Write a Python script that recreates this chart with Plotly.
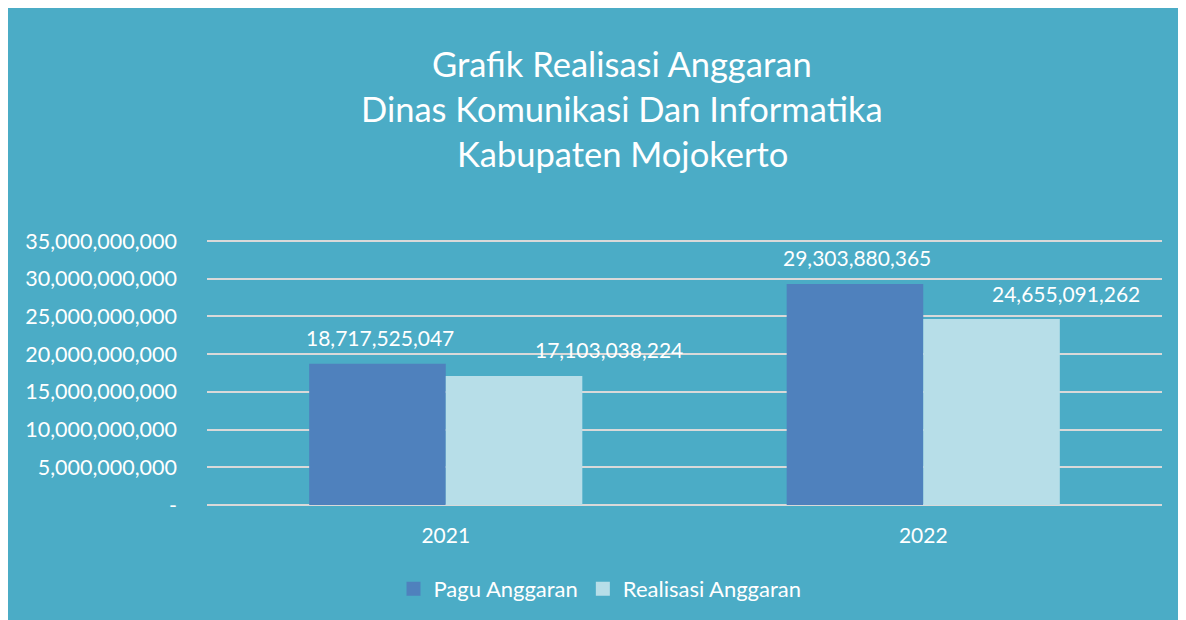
import plotly.graph_objects as go

# ---- data ----
years = ["2021", "2022"]
pagu = [18717525047, 29303880365]
realisasi = [17103038224, 24655091262]
series_names = ["Pagu Anggaran", "Realisasi Anggaran"]
title_lines = ["Grafik Realisasi Anggaran",
               "Dinas Komunikasi Dan Informatika",
               "Kabupaten Mojokerto"]
ytick_vals = [0, 5e9, 10e9, 15e9, 20e9, 25e9, 30e9, 35e9]
ytick_text = ["-", "5,000,000,000", "10,000,000,000", "15,000,000,000",
              "20,000,000,000", "25,000,000,000", "30,000,000,000",
              "35,000,000,000"]

# ---- style ----
BG = "#4BACC6"
C_PAGU = "#4F81BD"
C_REAL = "#B7DEE8"
FONT = "Lato"
OFF = 8  # page body margin
W, H = 1200, 640  # a little larger than the window so the teal fills it
# plot area in page pixels: x 207..1162, y 236..505 (35bn gridline at 241)
L = 207 - OFF
R = W - (1162 - OFF)
T = 236 - OFF
B = H - (505 - OFF)
PW, PH = W - L - R, H - T - B
Y_MAX = 35e9 * PH / (PH - 5)


def px_to_paper_x(px):  # page pixel -> paper
    return (px - OFF - L) / PW


def px_to_paper_y(py):
    return (H - B - (py - OFF)) / PH


fig = go.Figure()
fig.add_trace(go.Bar(x=years, y=pagu, name=series_names[0], showlegend=False,
                     marker=dict(color=C_PAGU, line=dict(width=0))))
fig.add_trace(go.Bar(x=years, y=realisasi, name=series_names[1], showlegend=False,
                     marker=dict(color=C_REAL, line=dict(width=0))))
# legend proxies (square swatches)
for nm, col in zip(series_names, [C_PAGU, C_REAL]):
    fig.add_trace(go.Scatter(x=[None], y=[None], mode="markers", name=nm,
                             marker=dict(symbol="square", size=14, color=col,
                                         line=dict(width=0))))

annotations = []
pagu_xshift = [-66, -66]
real_xshift = [163, 143]
for i, yr in enumerate(years):
    # category axes take the category index for annotations
    annotations.append(dict(x=i, y=pagu[i], xref="x", yref="y",
                            text=f"{pagu[i]:,}", showarrow=False,
                            xshift=pagu_xshift[i], yshift=26,
                            yanchor="middle", xanchor="center",
                            font=dict(family=FONT, size=21, color="white")))
    annotations.append(dict(x=i, y=realisasi[i], xref="x", yref="y",
                            text=f"{realisasi[i]:,}", showarrow=False,
                            xshift=real_xshift[i], yshift=26,
                            yanchor="middle", xanchor="center",
                            font=dict(family=FONT, size=21, color="white")))

title_y_px = [63, 108, 154]
for line, ypx in zip(title_lines, title_y_px):
    annotations.append(dict(x=px_to_paper_x(622), y=px_to_paper_y(ypx),
                            xref="paper", yref="paper", text=line,
                            showarrow=False, xanchor="center", yanchor="middle",
                            font=dict(family=FONT, size=34.5, color="white")))

fig.update_layout(
    width=W, height=H,
    margin=dict(l=L, r=R, t=T, b=B, pad=0),
    paper_bgcolor=BG, plot_bgcolor=BG,
    barmode="group", bargap=0.428, bargroupgap=0,
    font=dict(family=FONT, size=21, color="white"),
    showlegend=True,
    legend=dict(orientation="h", x=px_to_paper_x(600), y=px_to_paper_y(589),
                xanchor="center", yanchor="middle",
                font=dict(family=FONT, size=22, color="white"),
                bgcolor="rgba(0,0,0,0)", itemwidth=30),
    annotations=annotations,
    xaxis=dict(type="category", range=[-0.5, len(years) - 0.5],
               showgrid=False, showline=False, zeroline=False,
               ticks="", tickfont=dict(family=FONT, size=21, color="white"),
               ticklabelstandoff=16),
    yaxis=dict(range=[0, Y_MAX], tickvals=ytick_vals, ticktext=ytick_text,
               showgrid=True, gridcolor="#D9D9D9", gridwidth=1.5,
               zeroline=True, zerolinecolor="#D9D9D9", zerolinewidth=1.5,
               showline=False, ticks="",
               tickfont=dict(family=FONT, size=21.5, color="white"),
               ticklabelstandoff=29),
)

fig.write_html("out.html")
